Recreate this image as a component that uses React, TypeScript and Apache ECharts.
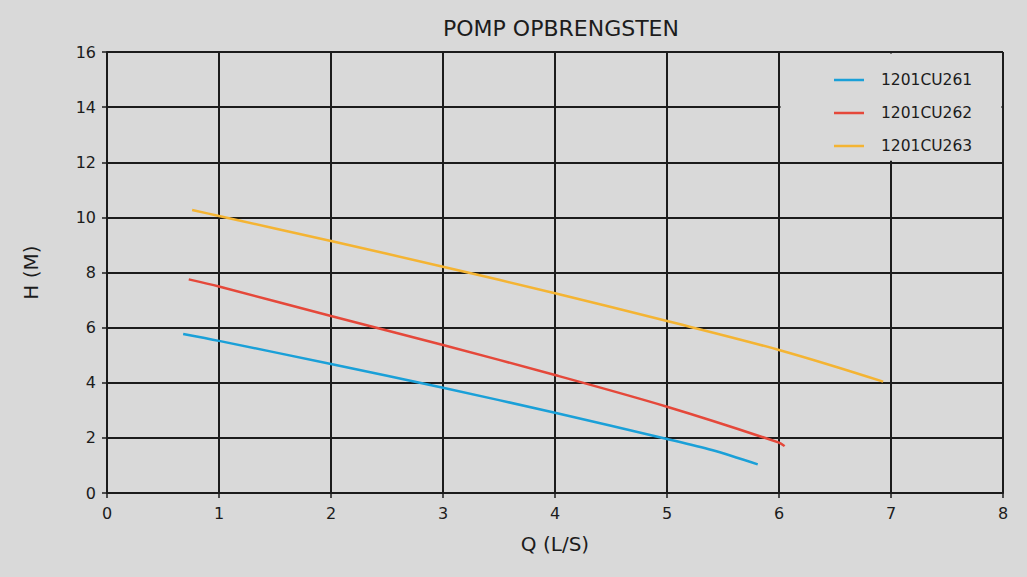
import React, { useEffect, useRef } from "react";
import * as echarts from "echarts";

const seriesNames = ["1201CU261", "1201CU262", "1201CU263"];
const seriesColors = ["#1aa0d8", "#e5483a", "#f4b433"];

const blueData: [number, number][] = [
  [0.68, 5.77], [1, 5.52], [2, 4.68], [3, 3.82], [4, 2.91], [5, 1.96], [5.4, 1.56], [5.81, 1.04],
];
const redData: [number, number][] = [
  [0.73, 7.75], [1, 7.49], [2, 6.42], [3, 5.37], [4, 4.28], [5, 3.13], [6, 1.83], [6.05, 1.7],
];
const yellowData: [number, number][] = [
  [0.76, 10.27], [1, 10.05], [2, 9.14], [3, 8.21], [4, 7.25], [5, 6.24], [6, 5.19], [6.93, 4.04],
];

const titleText = "POMP OPBRENGSTEN";
const xName = "Q (L/S)";
const yName = "H (M)";
const xRange = [0, 8];
const yRange = [0, 16];

const BG = "#d9d9d9";
const INK = "#1c1c1c";
const FONT = "DejaVu Sans";

export default function App() {
  const ref = useRef<HTMLDivElement>(null);
  useEffect(() => {
    document.body.style.margin = "0";
    if (!ref.current) return;
    const chart = echarts.init(ref.current, undefined, { renderer: "svg" });
    const allData = [blueData, redData, yellowData];
    chart.setOption({
      animation: false,
      backgroundColor: BG,
      textStyle: { fontFamily: FONT },
      title: {
        text: titleText,
        left: 438,
        top: 12,
        textStyle: { fontFamily: FONT, fontSize: 22, fontWeight: "normal", color: INK },
      },
      grid: { left: 107, right: 24, top: 52, bottom: 84 },
      legend: {
        data: seriesNames,
        orient: "vertical",
        left: 834,
        top: 72,
        padding: 0,
        icon: "rect",
        itemWidth: 30,
        itemHeight: 2.5,
        itemGap: 17,
        textStyle: {
          fontFamily: FONT,
          fontSize: 15.5,
          color: INK,
          lineHeight: 14,
          padding: [0, 0, 0, 12],
        },
        z: 10,
      },
      xAxis: {
        type: "value",
        min: xRange[0],
        max: xRange[1],
        interval: 1,
        name: xName,
        nameLocation: "middle",
        nameGap: 41,
        nameTextStyle: { fontFamily: FONT, fontSize: 20, color: INK },
        axisLine: { show: true, lineStyle: { color: INK, width: 2 } },
        axisTick: { show: true, length: 5, lineStyle: { color: INK, width: 1.5 } },
        axisLabel: { fontFamily: FONT, fontSize: 16, color: INK, margin: 12 },
        splitLine: { show: true, lineStyle: { color: INK, width: 2 } },
      },
      yAxis: {
        type: "value",
        min: yRange[0],
        max: yRange[1],
        interval: 2,
        name: yName,
        nameLocation: "middle",
        nameGap: 66,
        nameTextStyle: { fontFamily: FONT, fontSize: 20, color: INK },
        axisLine: { show: true, lineStyle: { color: INK, width: 2 } },
        axisTick: { show: true, length: 5, lineStyle: { color: INK, width: 1.5 } },
        axisLabel: { fontFamily: FONT, fontSize: 16, color: INK, margin: 11 },
        splitLine: { show: true, lineStyle: { color: INK, width: 2 } },
      },
      series: seriesNames.map((name, i) => ({
        name,
        type: "line",
        data: allData[i],
        symbol: "none",
        smooth: 0.3,
        lineStyle: { color: seriesColors[i], width: 2.5 },
        itemStyle: { color: seriesColors[i] },
        z: 3,
      })),
    });
    const p1 = chart.convertToPixel({ gridIndex: 0 }, [6, 16]) as number[];
    const p2 = chart.convertToPixel({ gridIndex: 0 }, [8, 12]) as number[];
    chart.setOption({
      graphic: [
        {
          type: "rect",
          z: 5,
          shape: { x: p1[0] + 1.5, y: p1[1] + 1.5, width: p2[0] - p1[0] - 3, height: p2[1] - p1[1] - 3 },
          style: { fill: BG },
          silent: true,
        },
      ],
    });
    return () => chart.dispose();
  }, []);
  return <div ref={ref} style={{ width: 1027, height: 577 }} />;
}
